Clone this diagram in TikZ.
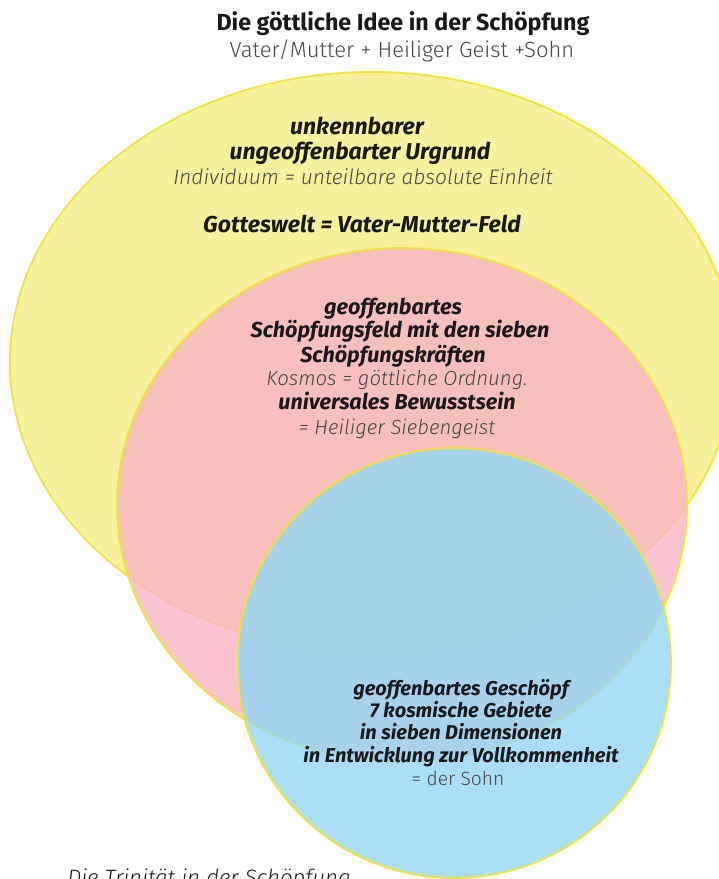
\documentclass[tikz,border=0pt]{standalone}
\usepackage{fontspec}
\setmainfont{Fira Sans}
\newfontfamily\lightfont{Fira Sans Light}
\definecolor{rimyellow}{RGB}{238,228,58}
\definecolor{fieldyellow}{RGB}{246,242,158}
\definecolor{fieldpink}{RGB}{248,180,196}
\definecolor{fieldblue}{RGB}{150,216,245}
\definecolor{inkdark}{RGB}{25,25,25}
\definecolor{inklight}{RGB}{70,70,70}
\tikzset{
  field/.style={draw=rimyellow, line width=1.8pt},
  label/.style={anchor=base, inner sep=0pt},
  strongY/.style={label, font=\fontsize{23}{26}\selectfont\bfseries\itshape, text=inkdark},
  softY/.style={label, font=\fontsize{21}{24}\lightfont\itshape, text=inklight},
  strongP/.style={label, font=\fontsize{21.6}{24}\selectfont\bfseries\itshape, text=inkdark},
  softP/.style={label, font=\fontsize{20.4}{24}\lightfont\itshape, text=inklight},
  strongB/.style={label, font=\fontsize{20}{22}\selectfont\bfseries\itshape, text=inkdark},
}
\begin{document}
\begin{tikzpicture}[x=1pt,y=-1pt]
\useasboundingbox (0,0) rectangle (719,879);
\fill[white] (0,0) rectangle (719,879);

% the three fields
\path[field, fill=fieldyellow] (372,362) ellipse [x radius=362pt, y radius=290pt];
\path[field, fill=fieldpink, fill opacity=0.8] (402,505) ellipse [x radius=285pt, y radius=257pt];
\path[field, fill=fieldblue, fill opacity=0.8] (454,663) ellipse [x radius=217pt, y radius=215pt];

% heading
\node[label, font=\fontsize{23.3}{26}\selectfont\bfseries, text=inkdark] (title) at (403,30) {Die göttliche Idee in der Schöpfung};
\node[label, font=\fontsize{22}{26}\lightfont, text=inklight] (subtitle) at (402,57) {Vater/Mutter + Heiliger Geist +Sohn};

% yellow field
\node[strongY] (y1) at (357,134) {unkennbarer};
\node[strongY] (y2) at (360,159) {ungeoffenbarter Urgrund};
\node[softY] (y3) at (363,184) {Individuum = unteilbare absolute Einheit};
\node[strongY] (y4) at (362,232) {Gotteswelt = Vater-Mutter-Feld};

% pink field
\node[strongP] (p1) at (393,314) {geoffenbartes};
\node[strongP] (p2) at (400,337) {Schöpfungsfeld mit den sieben};
\node[strongP] (p3) at (393,362) {Schöpfungskräften};
\node[softP] (p4) at (397,385) {Kosmos = göttliche Ordnung.};
\node[strongP] (p5) at (397,409) {universales Bewusstsein};
\node[softP] (p6) at (397,434) {= Heiliger Siebengeist};

% blue field
\node[strongB] (b1) at (461,695) {geoffenbartes Geschöpf};
\node[strongB] (b2) at (461,717) {7 kosmische Gebiete};
\node[strongB] (b3) at (461,739) {in sieben Dimensionen};
\node[strongB] (b4) at (461,762) {in Entwicklung zur Vollkommenheit};
\node[label, font=\fontsize{19.2}{22}\lightfont, text=inklight] (b5) at (458,785) {= der Sohn};

% caption, running off the lower edge
\node[label, font=\fontsize{22.2}{26}\lightfont\itshape, text=inkdark] (caption) at (209,885) {Die Trinität in der Schöpfung};
\end{tikzpicture}
\end{document}
